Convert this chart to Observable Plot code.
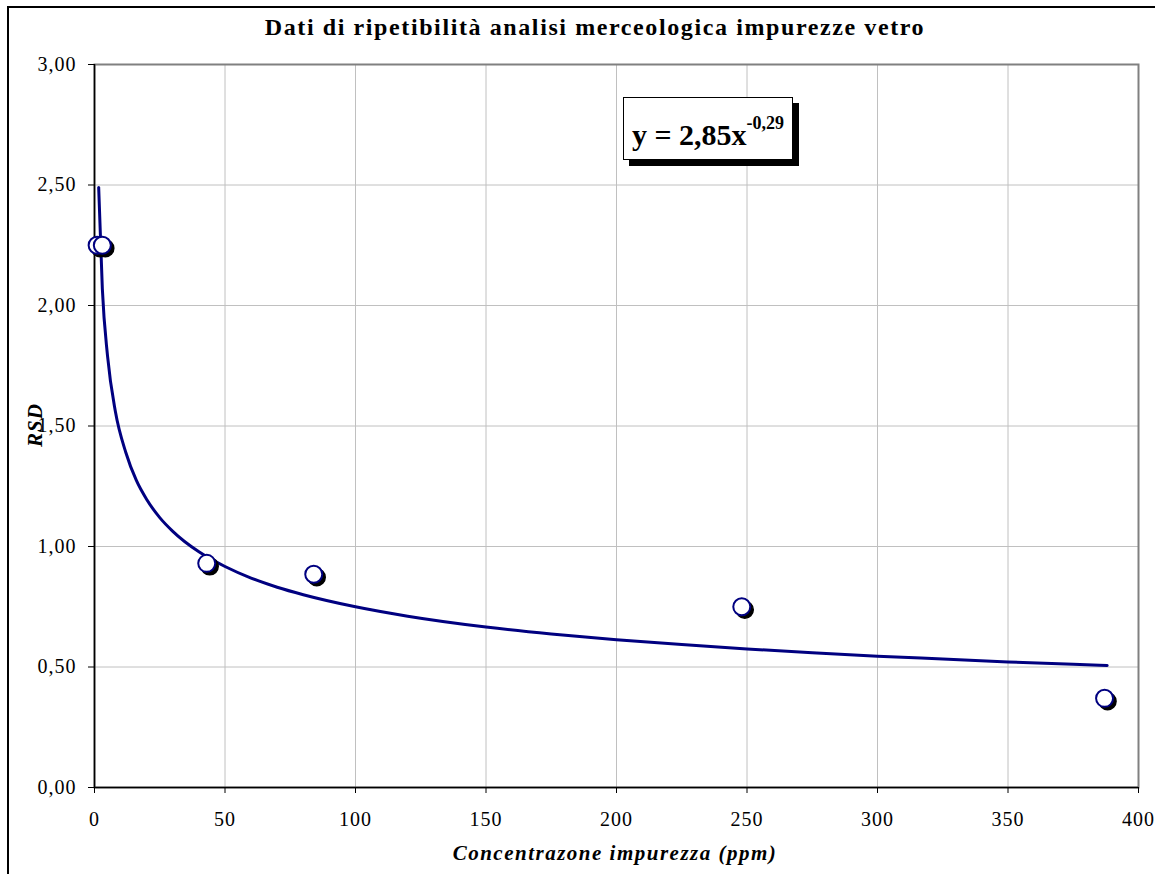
<!DOCTYPE html>
<html>
<head>
<meta charset="utf-8">
<script src="https://cdn.jsdelivr.net/npm/d3@7"></script>
<script src="https://cdn.jsdelivr.net/npm/@observablehq/plot@0.6"></script>
<style>
  body { margin: 0; background: #fff; }
  #wrap { position: relative; width: 1155px; height: 874px; overflow: hidden; font-family: "Liberation Serif", "DejaVu Serif", serif; }
  #border { position: absolute; left: 7px; top: 6px; width: 1200px; height: 900px; border-left: 2px solid #000; border-top: 2px solid #000; pointer-events: none; }
  #title { position: absolute; left: 0; width: 1190px; top: 14px; text-align: center; font-weight: bold; font-size: 24px; letter-spacing: 1.6px; color: #000; }
  #xlabel { position: absolute; left: 0; width: 1230px; top: 841px; text-align: center; font-weight: bold; font-style: italic; font-size: 21px; letter-spacing: 1.5px; }
  #ylabel { position: absolute; left: 35px; top: 425px; transform: translate(-50%, -50%) rotate(-90deg); font-weight: bold; font-style: italic; font-size: 21px; letter-spacing: 1px; white-space: nowrap; }
  #eq { position: absolute; left: 623px; top: 97px; width: 168px; height: 61px; border: 1px solid #000; background: #fff; box-shadow: 6px 6px 0 #000; font-weight: bold; font-size: 30px; line-height: 61px; text-align: center; white-space: nowrap; }
  #eq sup { font-size: 18px; position: relative; top: -5px; }
  .ticklab text { letter-spacing: 1px; }
</style>
</head>
<body>
<div id="wrap">
  <div id="chart"></div>
  <div id="title">Dati di ripetibilità analisi merceologica impurezze vetro</div>
  <div id="ylabel">RSD</div>
  <div id="xlabel">Concentrazone impurezza (ppm)</div>
  <div id="eq">y = 2,85x<sup>-0,29</sup></div>
  <div id="border"></div>
</div>
<script>
// Measured points (concentration in ppm, RSD)
const pointX = [1, 3, 43, 84, 248, 387];
const pointY = [2.25, 2.25, 0.93, 0.885, 0.75, 0.37];

// Trend line (power fit)
const curveX = [1.6, 3, 5, 8, 12, 16, 20, 25, 30, 40, 50, 60, 70, 80, 100, 120, 150, 175, 200, 225, 250, 275, 300, 325, 350, 375, 388];
const curveY = [2.49, 2.07, 1.79, 1.56, 1.39, 1.275, 1.195, 1.12, 1.063, 0.978, 0.917, 0.869, 0.831, 0.80, 0.75, 0.711, 0.666, 0.637, 0.613, 0.593, 0.575, 0.559, 0.545, 0.533, 0.521, 0.511, 0.506];

const xTicks = [0, 50, 100, 150, 200, 250, 300, 350, 400];
const yTicks = [0, 0.5, 1, 1.5, 2, 2.5, 3];

const points = pointX.map((x, i) => ({x, y: pointY[i]}));
const curve = curveX.map((x, i) => ({x, y: curveY[i]}));
const fmt = v => d3.format(".2f")(v).replace(".", ",");

const chart = Plot.plot({
  width: 1155,
  height: 874,
  marginLeft: 94,
  marginRight: 17,
  marginTop: 64,
  marginBottom: 87,
  style: { fontFamily: "Liberation Serif", color: "#000", background: "transparent" },
  x: { domain: [0, 400] },
  y: { domain: [0, 3] },
  marks: [
    Plot.gridX(xTicks, { stroke: "#c0c0c0", strokeOpacity: 1, strokeWidth: 1 }),
    Plot.gridY(yTicks, { stroke: "#c0c0c0", strokeOpacity: 1, strokeWidth: 1 }),
    Plot.frame({ stroke: "#808080", strokeWidth: 2 }),
    Plot.ruleX([0], { stroke: "#000", strokeWidth: 1.5 }),
    Plot.ruleY([0], { stroke: "#000", strokeWidth: 1.5 }),
    Plot.axisX(xTicks, { tickSize: 6, tickFormat: () => "", label: null, stroke: "#000" }),
    Plot.axisY(yTicks, { tickSize: 6, tickFormat: () => "", label: null, stroke: "#000" }),
    Plot.text(yTicks, { x: 0, y: d => d, text: fmt, textAnchor: "end", dx: -18, fontSize: 20, fontFamily: "Liberation Serif", fill: "#000", className: "ticklab" }),
    Plot.text(xTicks, { x: d => d, y: 0, text: d => String(d), dy: 32, fontSize: 20, fontFamily: "Liberation Serif", fill: "#000", className: "ticklab" }),
    Plot.line(curve, { x: "x", y: "y", stroke: "#000080", strokeWidth: 3, curve: "monotone-x" }),
    Plot.dot(points, { x: "x", y: "y", r: 8.5, fill: "#000", stroke: "#000", dx: 3, dy: 3 }),
    Plot.dot(points, { x: "x", y: "y", r: 8.5, fill: "#fff", stroke: "#000080", strokeWidth: 2 })
  ]
});
document.getElementById("chart").appendChild(chart);
</script>
</body>
</html>
